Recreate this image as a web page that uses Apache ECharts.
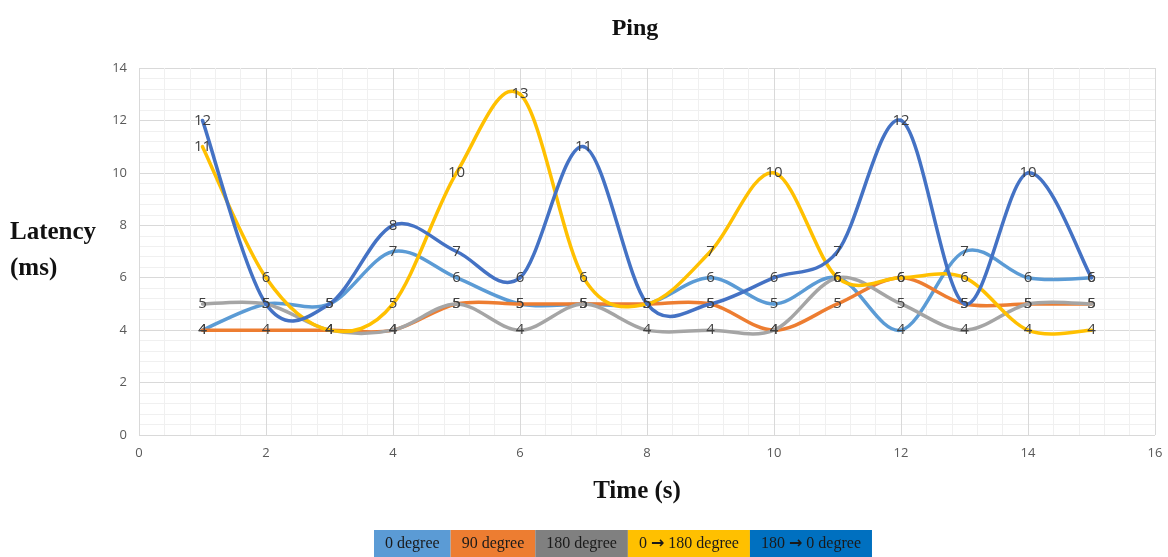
<!DOCTYPE html>
<html><head><meta charset="utf-8">
<script src="https://cdn.jsdelivr.net/npm/echarts@6/dist/echarts.min.js"></script>
<style>html,body{margin:0;padding:0;background:#fff}#c{width:1168px;height:557px}</style>
</head><body><div id="c"></div>
<script>
const times = [1,2,3,4,5,6,7,8,9,10,11,12,13,14,15];
const seriesNames = ['0 degree','90 degree','180 degree','0 \u2192 180 degree','180 \u2192 0 degree'];
const deg0 = [4,5,5,7,6,5,5,5,6,5,6,4,7,6,6];
const deg90 = [4,4,4,4,5,5,5,5,5,4,5,6,5,5,5];
const deg180 = [5,5,4,4,5,4,5,4,4,4,6,5,4,5,5];
const deg0to180 = [11,6,4,5,10,13,6,5,7,10,6,6,6,4,4];
const deg180to0 = [12,5,5,8,7,6,11,5,5,6,7,12,5,10,6];
const lineColors = ['#5B9BD5','#ED7D31','#A5A5A5','#FFC000','#4472C4'];
const legendColors = ['#5B9BD5','#ED7D31','#808080','#FFC000','#0070C0'];
const allData = [deg0,deg90,deg180,deg0to180,deg180to0];

const chart = echarts.init(document.getElementById('c'));
const serif = '"Liberation Serif","DejaVu Serif",serif';

// Excel-like smoothed line: cubic Bezier segments between data points (Catmull-Rom tangents),
// endpoints mapped through the chart's own coordinate system.
function makeRenderer(color){
  return function(params, api){
    const i = params.dataIndexInside, n = params.dataInsideLength;
    if (i >= n - 1) return null;
    const pt = k => { k = Math.max(0, Math.min(n - 1, k)); return api.coord([api.value(0, k), api.value(1, k)]); };
    const p0 = pt(i - 1), p1 = pt(i), p2 = pt(i + 1), p3 = pt(i + 2);
    return {type:'bezierCurve',
      shape:{x1:p1[0],y1:p1[1],x2:p2[0],y2:p2[1],
        cpx1:p1[0]+(p2[0]-p0[0])/6, cpy1:p1[1]+(p2[1]-p0[1])/6,
        cpx2:p2[0]-(p3[0]-p1[0])/6, cpy2:p2[1]-(p3[1]-p1[1])/6},
      style:{stroke:color,lineWidth:3.5,fill:null,lineCap:'round'}};
  };
}

const curveSeries = seriesNames.map((n,i)=>({
  name:n,type:'custom',z:2,
  data:times.map((t,j)=>[t,allData[i][j]]),
  renderItem:makeRenderer(lineColors[i]),
  itemStyle:{color:lineColors[i]},
  emphasis:{disabled:true},silent:true
}));
const labelSeries = seriesNames.map((n,i)=>({
  name:n,type:'line',z:5,
  data:times.map((t,j)=>[t,allData[i][j]]),
  symbol:'circle',symbolSize:0,showSymbol:true,
  lineStyle:{opacity:0,width:0},
  itemStyle:{color:lineColors[i]},
  label:{show:true,position:'inside',color:'#404040',fontSize:15,fontFamily:'"Open Sans",sans-serif'},
  emphasis:{disabled:true},silent:true
}));

chart.setOption({
  animation:false,
  title:{text:'Ping',left:630,top:12,textAlign:'center',textStyle:{fontFamily:serif,fontWeight:'bold',fontSize:24,color:'#111'}},
  grid:{left:139,right:13,top:68,bottom:122},
  xAxis:{type:'value',min:0,max:16,interval:2,
    name:'Time (s)',nameLocation:'middle',nameGap:44,
    nameTextStyle:{fontFamily:serif,fontWeight:'bold',fontSize:25,color:'#111',padding:[0,20,0,0]},
    axisLine:{show:false},axisTick:{show:false},
    axisLabel:{color:'#595959',fontSize:13,fontFamily:'"Open Sans",sans-serif',margin:12},
    splitLine:{show:true,lineStyle:{color:'#D9D9D9',width:1}},
    minorTick:{show:false,splitNumber:5},
    minorSplitLine:{show:true,lineStyle:{color:'#F0F0F0',width:1}}},
  yAxis:{type:'value',min:0,max:14,interval:2,
    axisLine:{show:false},axisTick:{show:false},
    axisLabel:{color:'#595959',fontSize:13,fontFamily:'"Open Sans",sans-serif',margin:12},
    splitLine:{show:true,lineStyle:{color:'#D9D9D9',width:1}},
    minorTick:{show:false,splitNumber:5},
    minorSplitLine:{show:true,lineStyle:{color:'#F0F0F0',width:1}}},
  graphic:[{type:'text',left:10,top:215,style:{text:'Latency\n(ms)',font:'bold 25px '+serif,fill:'#111',lineHeight:36}}],
  legend:{top:530,left:369,itemWidth:0,itemHeight:0,itemGap:-5,padding:0,
    formatter:name=>name.replace('\u2192','{a|\u2192}'),
    data:seriesNames.map((n,i)=>({name:n,icon:'rect',textStyle:{backgroundColor:legendColors[i],padding:[6,11,5,11],color:'#1a1a1a',fontFamily:serif,fontSize:16,
      rich:{a:{fontFamily:'"DejaVu Sans",sans-serif',fontWeight:'bold',fontSize:16,color:'#1a1a1a'}}}}))},
  series:curveSeries.concat(labelSeries)
});
</script></body></html>
